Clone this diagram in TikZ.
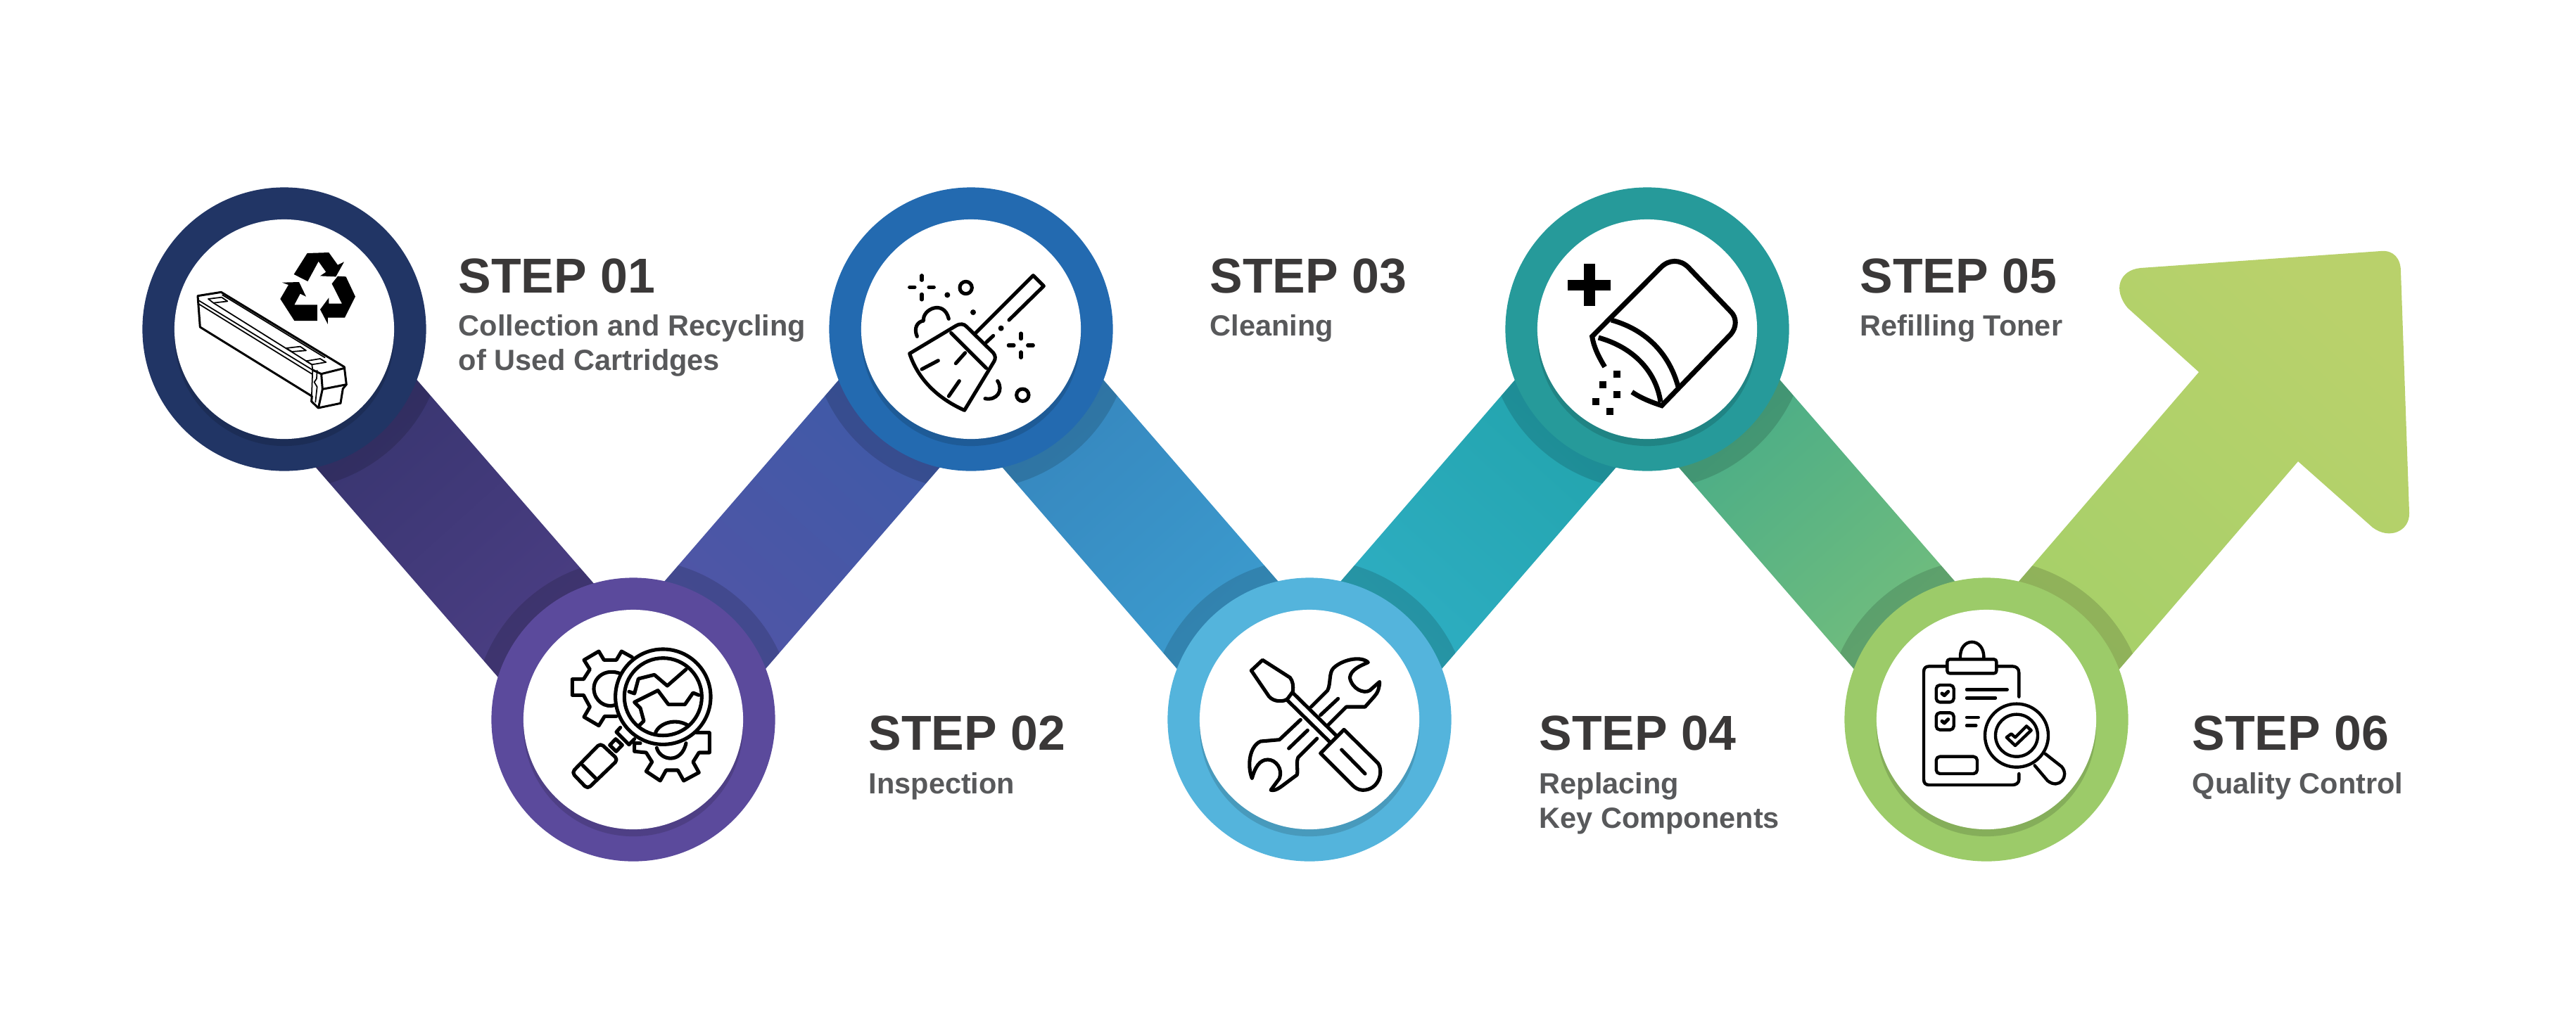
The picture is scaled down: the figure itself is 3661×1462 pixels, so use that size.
\documentclass[tikz,border=0pt]{standalone}
\usepackage{fontspec}
\setmainfont{Liberation Sans}
\usetikzlibrary{calc,backgrounds}

\definecolor{ringa}{HTML}{213565}
\definecolor{ringb}{HTML}{5B4A9C}
\definecolor{ringc}{HTML}{236AB0}
\definecolor{ringd}{HTML}{54B4DC}
\definecolor{ringe}{HTML}{269A9A}
\definecolor{ringf}{HTML}{9CCB69}
\definecolor{bandaa}{HTML}{34336B}
\definecolor{bandab}{HTML}{4F4088}
\definecolor{bandba}{HTML}{3A5CA8}
\definecolor{bandbb}{HTML}{5553A5}
\definecolor{bandca}{HTML}{3581BA}
\definecolor{bandcb}{HTML}{3DA1D2}
\definecolor{bandda}{HTML}{20A2A8}
\definecolor{banddb}{HTML}{31B0C8}
\definecolor{bandea}{HTML}{3FA88A}
\definecolor{bandeb}{HTML}{7DC27A}
\definecolor{arrowa}{HTML}{B9D16B}
\definecolor{arrowb}{HTML}{A5D069}
\definecolor{titlegray}{HTML}{3A3838}
\definecolor{subgray}{HTML}{58595B}

\tikzset{
	ring/.style={circle,minimum size=4.03cm,inner sep=0pt},
	hole/.style={circle,fill=white,minimum size=3.12cm,inner sep=0pt},
	steptitle/.style={anchor=base west,inner sep=0pt,text=titlegray,font=\bfseries\fontsize{19.85}{24}\selectfont},
	stepsub/.style={anchor=base west,inner sep=0pt,text=subgray,align=left,font=\bfseries\fontsize{11.8}{13.8}\selectfont},
	darken/.style={fill=black,opacity=0.14},
	icon/.style={draw=black,line width=1.45pt,line join=round,line cap=round},
	thinicon/.style={draw=black,line width=0.5pt,line join=round,line cap=round},
	toner/.style={draw=black,line width=2pt,line join=miter},
	bandpoly/.style 2 args={insert path={
		($(#1)!.95cm!90:(#2)$) -- ($(#1)!.95cm!-90:(#2)$) -- ($(#2)!.95cm!90:(#1)$) -- ($(#2)!.95cm!-90:(#1)$) -- cycle}},
	arrowpoly/.style={insert path={
		(2805,901) -- (3125,529) -- (3024,438) .. controls (3002,412) and (3012,384) .. (3042,381)
		-- (3383,357) .. controls (3402,355) and (3412,368) .. (3412,386)
		-- (3424,729) .. controls (3425,755) and (3396,768) .. (3372,750)
		-- (3266,656) -- (2946,1028) -- cycle}},
}

% band between two circles, with the dark edge of both circles on it
\newcommand{\band}[6][0]{
	\coordinate (bandend) at ($(#3)+(#1,0)$);
	\path[top color=#4,bottom color=#5,shading angle=#6,bandpoly={#2}{bandend}];
	\begin{scope}
		\clip[bandpoly={#2}{bandend}];
		\fill[darken] (#2) circle (2.28cm);
		\fill[darken] (#3) circle (2.28cm);
	\end{scope}
}

\begin{document}
\begin{tikzpicture}[x=0.01cm,y=-0.01cm]
	\useasboundingbox (0,0) rectangle (3661,1462);

	% rings
	\node[ring,fill=ringa] (ca) at (404,468) {};
	\node[ring,fill=ringb] (cb) at (900,1023) {};
	\node[ring,fill=ringc] (cc) at (1380,468) {};
	\node[ring,fill=ringd] (cd) at (1861,1023) {};
	\node[ring,fill=ringe] (ce) at (2341,468) {};
	\node[ring,fill=ringf] (cf) at (2823,1023) {};

	% bands and arrow
	\begin{scope}[on background layer]
		\band[-14]{ca}{cb}{bandaa}{bandab}{42}
		\band{cb}{cc}{bandba}{bandbb}{-42}
		\band{cc}{cd}{bandca}{bandcb}{42}
		\band{cd}{ce}{bandda}{banddb}{-42}
		\band{ce}{cf}{bandea}{bandeb}{42}
		\path[top color=arrowa,bottom color=arrowb,shading angle=-42,arrowpoly];
		\begin{scope}
			\clip[arrowpoly];
			\fill[darken] (cf) circle (2.28cm);
		\end{scope}
	\end{scope}

	% inner shadow and white holes
	\fill[darken] ($(ca)+(0,10)$) circle (1.56cm);
	\fill[darken] ($(cb)+(0,10)$) circle (1.56cm);
	\fill[darken] ($(cc)+(0,10)$) circle (1.56cm);
	\fill[darken] ($(cd)+(0,10)$) circle (1.56cm);
	\fill[darken] ($(ce)+(0,10)$) circle (1.56cm);
	\fill[darken] ($(cf)+(0,10)$) circle (1.56cm);
	\node[hole] (ha) at (ca) {};
	\node[hole] (hb) at (cb) {};
	\node[hole] (hc) at (cc) {};
	\node[hole] (hd) at (cd) {};
	\node[hole] (he) at (ce) {};
	\node[hole] (hf) at (cf) {};

	% texts
	\node[steptitle] (ta) at (651,416) {STEP 01};
	\node[stepsub] (sa) at (651,526) {Collection and Recycling\\of Used Cartridges};
	\node[steptitle] (tb) at (1234,1066) {STEP 02};
	\node[stepsub] (sb) at (1234,1128) {Inspection};
	\node[steptitle] (tc) at (1719,416) {STEP 03};
	\node[stepsub] (sc) at (1719,477) {Cleaning};
	\node[steptitle] (td) at (2187,1066) {STEP 04};
	\node[stepsub] (sd) at (2187,1177) {Replacing\\Key Components};
	\node[steptitle] (te) at (2643,416) {STEP 05};
	\node[stepsub] (se) at (2643,477) {Refilling Toner};
	\node[steptitle] (tf) at (3115,1066) {STEP 06};
	\node[stepsub] (sf) at (3115,1128) {Quality Control};

	% cartridge and recycling sign
	\begin{scope}[shift={(260,330)},scale=0.3333]
		\draw[thinicon,line width=0.85pt] (63,272) -- (163,256) -- (688,575) -- (697,650) -- (682,668) -- (672,730) -- (577,750) -- (548,722) -- (550,700) -- (73,405) -- cycle;
		\draw[thinicon] (65,305) -- (550,605);
		\draw[thinicon] (68,292) -- (553,588);
		\draw[thinicon] (168,268) -- (605,535);
		\draw[thinicon] (108,285) -- (165,278) -- (190,295) -- (130,302) -- cycle;
		\draw[thinicon] (440,495) -- (500,488) -- (525,505) -- (465,510) -- cycle;
		\draw[thinicon] (525,550) -- (585,540) -- (610,555) -- (550,565) -- cycle;
		\draw[thinicon] (130,302) -- (550,565) -- (553,588);
		\draw[thinicon,line width=0.85pt] (553,588) -- (590,605) -- (690,580);
		\draw[thinicon,line width=0.85pt] (590,605) -- (595,670) -- (697,650);
		\draw[thinicon,line width=0.85pt] (595,670) -- (578,748);
		\draw[thinicon] (553,585) -- (548,722);
		\draw[thinicon] (572,590) -- (570,625) -- (560,640) -- (572,660) -- (565,725);
		\fill (473,180) -- (530,90) -- (622,87) -- (660,140) -- (687,127) -- (652,190) -- (585,187) -- (610,170) -- (578,125) -- (532,210) -- cycle;
		\fill (423,215) -- (495,213) -- (525,275) -- (500,263) -- (475,310) -- (573,310) -- (573,378) -- (475,378) -- (415,285) -- (450,225) -- cycle;
		\fill (660,188) -- (695,190) -- (735,275) -- (690,365) -- (618,365) -- (618,393) -- (585,330) -- (622,280) -- (622,305) -- (678,305) -- (635,220) -- cycle;
	\end{scope}

	% gears and magnifier
	\begin{scope}[shift={(790,900)},scale=0.3333]
		\draw[icon] (325,103) -- (280,78) -- (258,115) -- (205,115) -- (183,78) -- (120,115) -- (145,155) -- (118,197) -- (70,197) -- (70,265) -- (118,265) -- (145,315) -- (120,358) -- (183,395) -- (208,355) -- (258,355);
		\draw[icon] (272,172) .. controls (210,150) and (160,190) .. (162,240) .. controls (165,290) and (210,320) .. (250,308);
		\draw[icon] (457,272) circle (2.03cm);
		\draw[icon] (457,272) circle (1.65cm);
		\draw[icon] (312,250) -- (335,258) -- (352,195) -- (420,178) -- (475,225) -- (555,155);
		\draw[icon] (610,265) -- (585,255) -- (550,305) -- (480,305) -- (435,245) -- (335,295) -- (360,320) -- (375,375) -- (355,395);
		\draw[icon] (425,425) .. controls (440,385) and (510,360) .. (565,395);
		\draw[icon] (600,425) -- (655,425) -- (655,510) -- (610,510) -- (585,550) -- (610,595) -- (545,630) -- (520,585) -- (470,585) -- (445,630) -- (385,590) -- (410,550) -- (385,510) -- (335,505) -- (335,470) -- (360,470);
		\draw[icon] (430,490) .. controls (445,545) and (535,560) .. (555,470);
		\draw[icon] (275,403) -- (258,422) -- (312,476) -- (335,452);
		\draw[icon] (230,478) -- (255,452) -- (283,478) -- (257,505) -- cycle;
		\draw[icon,rounded corners=1.5pt] (190,470) -- (265,540) -- (135,665) -- (68,595) -- cycle;
		\draw[icon] (115,565) -- (170,620);
	\end{scope}

	% broom
	\begin{scope}[shift={(1270,370)},scale=0.3333]
		\draw[icon] (350,310) -- (595,65) -- (640,110) -- (492,255);
		\draw[icon] (395,350) -- (425,322);
		\draw[icon] (68,398) -- (265,280) .. controls (285,268) and (300,272) .. (310,282) -- (425,395) .. controls (435,408) and (435,420) .. (428,432) -- (302,640) .. controls (190,590) and (105,510) .. (68,398) -- cycle;
		\draw[icon] (245,310) -- (395,460);
		\draw[icon] (265,440) -- (305,395);
		\draw[icon] (120,465) -- (190,428);
		\draw[icon] (235,580) -- (280,515);
		\draw[icon] (120,65) -- (120,85);
		\draw[icon] (120,145) -- (120,168);
		\draw[icon] (68,115) -- (90,115);
		\draw[icon] (150,115) -- (172,115);
		\draw[icon] (543,312) -- (543,335);
		\draw[icon] (543,392) -- (543,415);
		\draw[icon] (490,363) -- (513,363);
		\draw[icon] (572,363) -- (595,363);
		\fill (229,148) circle (0.12cm);
		\fill (339,222) circle (0.12cm);
		\fill (458,290) circle (0.12cm);
		\draw[icon] (308,117) circle (0.26cm);
		\draw[icon] (550,575) circle (0.26cm);
		\draw[icon] (100,325) .. controls (85,290) and (100,262) .. (128,258) .. controls (120,210) and (215,165) .. (235,250);
		\draw[icon] (443,515) .. controls (470,555) and (440,600) .. (390,590);
	\end{scope}

	% screwdriver and wrench
	\begin{scope}[shift={(1750,910)},scale=0.3333]
		\draw[icon] (133,85) -- (85,130) -- (160,240) .. controls (180,265) and (225,265) .. (240,250) -- (262,220) .. controls (265,195) and (262,175) .. (250,160) -- cycle;
		\draw[icon] (240,258) -- (420,435);
		\draw[icon] (265,228) -- (445,405);
		\draw[icon] (380,483) -- (480,382) -- (625,525) .. controls (650,560) and (630,640) .. (560,640) .. controls (540,640) and (525,628) .. (515,618) -- cycle;
		\draw[icon] (470,468) -- (570,570);
		\draw[icon] (340,285) -- (410,215) .. controls (425,185) and (415,140) .. (435,120) .. controls (470,85) and (550,65) .. (583,95) .. controls (550,110) and (510,125) .. (505,160) .. controls (515,210) and (565,230) .. (590,215) -- (632,178) .. controls (632,200) and (625,225) .. (610,240) -- (570,285) -- (490,285) -- (410,365);
		\draw[icon] (380,320) -- (455,250);
		\draw[icon] (295,340) -- (205,425) -- (125,432) .. controls (80,450) and (65,530) .. (88,590) .. controls (100,545) and (120,510) .. (155,510) .. controls (190,510) and (220,550) .. (205,590) -- (168,640) .. controls (195,645) and (210,625) .. (280,575) .. controls (285,555) and (275,520) .. (285,500) -- (365,420);
		\draw[icon] (245,462) -- (325,385);
	\end{scope}

	% toner bag
	\begin{scope}[shift={(2210,350)},scale=0.3333]
		\fill (123,75) rectangle (170,255);
		\fill (55,143) rectangle (238,188);
		\draw[toner] (212,515) .. controls (185,470) and (165,430) .. (158,385) -- (450,92) .. controls (485,55) and (535,55) .. (570,92) -- (750,280) .. controls (775,305) and (775,345) .. (750,375) -- (455,680) .. controls (410,665) and (370,650) .. (328,622);
		\draw[toner] (240,315) .. controls (400,360) and (490,470) .. (525,600);
		\draw[toner] (185,390) .. controls (330,430) and (430,530) .. (450,665);
		\fill (248,532) rectangle (278,562);
		\fill (190,575) rectangle (220,605);
		\fill (248,618) rectangle (278,648);
		\fill (160,647) rectangle (190,677);
		\fill (219,691) rectangle (249,721);
	\end{scope}

	% clipboard and magnifier
	\begin{scope}[shift={(2710,900)},scale=0.3333]
		\draw[icon,line width=1.25pt] (478,272) -- (478,170) .. controls (478,150) and (465,142) .. (450,142) -- (385,142);
		\draw[icon,line width=1.25pt] (170,142) -- (95,142) .. controls (80,142) and (72,150) .. (72,165) -- (72,625) .. controls (72,640) and (80,648) .. (95,648) -- (450,648) .. controls (465,648) and (478,640) .. (478,625) -- (478,600);
		\draw[icon,line width=1.25pt,rounded corners=1pt] (172,112) rectangle (382,172);
		\draw[icon,line width=1.25pt] (228,108) .. controls (222,15) and (332,15) .. (328,108);
		\draw[icon,line width=1.25pt,rounded corners=1.5pt] (125,222) rectangle (200,295);
		\draw[icon,line width=1.25pt,rounded corners=1.5pt] (125,340) rectangle (200,413);
		\draw[icon] (150,258) -- (160,266) -- (176,250);
		\draw[icon] (150,376) -- (160,384) -- (176,368);
		\draw[icon,line width=1.25pt] (255,241) -- (428,241);
		\draw[icon,line width=1.25pt] (255,277) -- (378,277);
		\draw[icon,line width=1.25pt] (255,360) -- (305,360);
		\draw[icon,line width=1.25pt] (255,395) -- (295,395);
		\draw[icon,line width=1.25pt,rounded corners=1.5pt] (125,527) rectangle (300,600);
		\draw[icon,line width=1.25pt] (468,437) circle (1.35cm);
		\draw[icon,line width=1.25pt] (468,437) circle (0.9cm);
		\draw[icon,line width=1.25pt] (425,445) -- (445,430) -- (462,445) -- (510,397) -- (530,415) -- (462,480) -- cycle;
		\draw[icon,line width=1.25pt] (590,515) -- (660,570) .. controls (695,610) and (650,670) .. (600,630) -- (545,565);
	\end{scope}
\end{tikzpicture}
\end{document}
